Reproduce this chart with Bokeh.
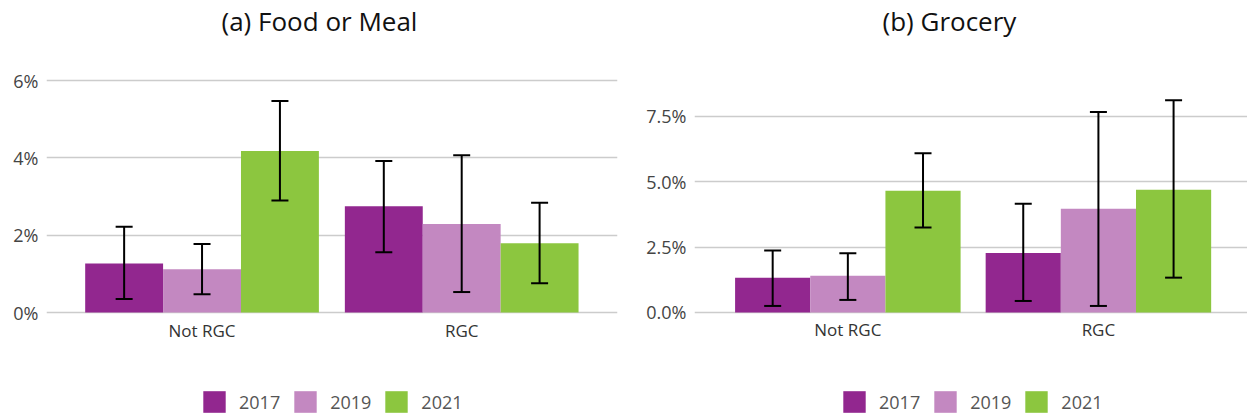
from bokeh.plotting import figure
from bokeh.models import (ColumnDataSource, Range1d, FixedTicker, PrintfTickFormatter,
                          Whisker, TeeHead, Legend, LegendItem)
from bokeh.layouts import row
from bokeh.embed import file_html
from bokeh.resources import INLINE

categories = ["Not RGC", "RGC"]
years = ["2017", "2019", "2021"]
colors = ["#92278f", "#c388c1", "#8cc63f"]

# (a) Food or Meal, values in percent
food_2017 = [1.27, 2.75]
food_2019 = [1.12, 2.29]
food_2021 = [4.18, 1.79]
food_2017_lo = [0.35, 1.56]
food_2017_hi = [2.22, 3.92]
food_2019_lo = [0.47, 0.53]
food_2019_hi = [1.77, 4.07]
food_2021_lo = [2.90, 0.76]
food_2021_hi = [5.47, 2.84]

# (b) Grocery, values in percent
grocery_2017 = [1.33, 2.27]
grocery_2019 = [1.40, 3.96]
grocery_2021 = [4.65, 4.69]
grocery_2017_lo = [0.25, 0.44]
grocery_2017_hi = [2.37, 4.15]
grocery_2019_lo = [0.48, 0.25]
grocery_2019_hi = [2.26, 7.65]
grocery_2021_lo = [3.24, 1.33]
grocery_2021_hi = [6.08, 8.10]

food_ticks = [0, 2, 4, 6]
grocery_ticks = [0, 2.5, 5, 7.5]

FONT = "Open Sans"


def make_panel(title, title_offset, values, lows, highs, ticks, fmt,
               y_start, y_end, x_start, x_end,
               width, b_left, b_right, legend_x):
    p = figure(x_range=Range1d(x_start, x_end), y_range=Range1d(y_start, y_end),
               width=width, height=416,
               min_border_left=b_left, min_border_right=b_right,
               min_border_top=0, min_border_bottom=0,
               output_backend="svg", toolbar_location=None)
    p.outline_line_color = None
    p.background_fill_color = "white"
    p.border_fill_color = "white"

    offsets = [-0.3, 0.0, 0.3]
    items = []
    whiskers = []
    for k, year in enumerate(years):
        xs = [i + offsets[k] for i in range(len(categories))]
        src = ColumnDataSource(dict(x=xs, top=values[k], lo=lows[k], hi=highs[k]))
        r = p.vbar(x="x", top="top", bottom=0, width=0.3, source=src,
                   fill_color=colors[k], line_color=None)
        items.append(LegendItem(label=year, renderers=[r]))
        w = Whisker(base="x", lower="lo", upper="hi", source=src,
                    line_color="black", line_width=2,
                    upper_head=TeeHead(size=17, line_width=2, line_color="black"),
                    lower_head=TeeHead(size=17, line_width=2, line_color="black"))
        w.level = "overlay"
        whiskers.append(w)
    for w in whiskers:
        p.add_layout(w)

    # y axis
    yt = FixedTicker(ticks=ticks)
    p.yaxis.ticker = yt
    p.ygrid.ticker = yt
    p.yaxis.formatter = PrintfTickFormatter(format=fmt)
    p.yaxis.axis_line_color = None
    p.yaxis.major_tick_line_color = None
    p.yaxis.minor_tick_line_color = None
    p.yaxis.major_tick_out = 0
    p.yaxis.major_tick_in = 0
    p.yaxis.minor_tick_out = 0
    p.yaxis.major_label_standoff = 8
    p.yaxis.major_label_text_font = FONT
    p.yaxis.major_label_text_font_size = "18px"
    p.yaxis.major_label_text_color = "#444444"

    # x axis, drawn at the 0 line
    p.xaxis.ticker = FixedTicker(ticks=list(range(len(categories))))
    p.xaxis.major_label_overrides = {i: c for i, c in enumerate(categories)}
    p.xaxis.fixed_location = 0
    p.xaxis.axis_line_color = None
    p.xaxis.major_tick_line_color = None
    p.xaxis.minor_tick_line_color = None
    p.xaxis.major_tick_out = 0
    p.xaxis.major_tick_in = 0
    p.xaxis.minor_tick_out = 0
    p.xaxis.major_label_standoff = 6
    p.xaxis.major_label_text_font = FONT
    p.xaxis.major_label_text_font_size = "17px"
    p.xaxis.major_label_text_color = "#333333"

    p.xgrid.grid_line_color = None
    p.ygrid.grid_line_color = "#cccccc"
    p.ygrid.grid_line_width = 1.5

    p.title.text = title
    p.title.align = "left"
    p.title.vertical_align = "top"
    p.title.offset = title_offset
    p.title.text_font = FONT
    p.title.text_font_size = "26px"
    p.title.text_font_style = "normal"
    p.title.text_color = "#111111"
    p.title.standoff = 4

    legend = Legend(items=items, location=(legend_x, 1), orientation="horizontal",
                    glyph_width=28, glyph_height=27, label_standoff=11, spacing=11,
                    padding=0, margin=0, border_line_color=None,
                    background_fill_alpha=0,
                    label_text_font=FONT, label_text_font_size="18px",
                    label_text_color="#555555")
    p.add_layout(legend)
    return p


p1 = make_panel("(a) Food or Meal", 175,
                [food_2017, food_2019, food_2021],
                [food_2017_lo, food_2019_lo, food_2021_lo],
                [food_2017_hi, food_2019_hi, food_2021_hi],
                food_ticks, "%d%%", -2.69, 6.986, -0.599, 1.600,
                620, 46, 3, 154)
p2 = make_panel("(b) Grocery", 188,
                [grocery_2017, grocery_2019, grocery_2021],
                [grocery_2017_lo, grocery_2019_lo, grocery_2021_lo],
                [grocery_2017_hi, grocery_2019_hi, grocery_2021_hi],
                grocery_ticks, "%.1f%%", -3.97, 10.306, -0.612, 1.595,
                627, 74, 0, 146)

layout = row(p1, p2)
open("out.html", "w").write(file_html(layout, INLINE))
